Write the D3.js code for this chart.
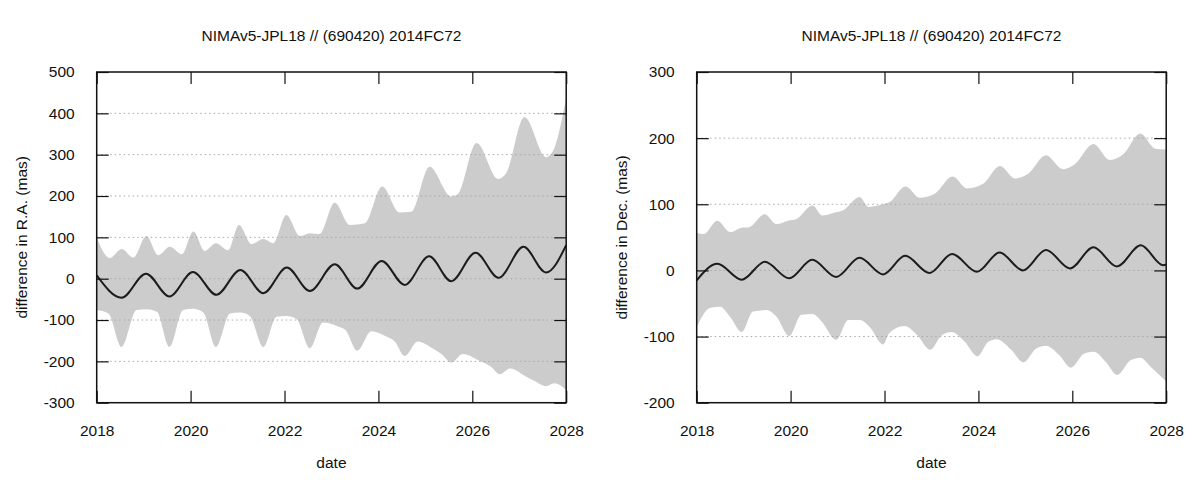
<!DOCTYPE html>
<html>
<head>
<meta charset="utf-8">
<script src="https://cdn.jsdelivr.net/npm/d3@7"></script>
<style>
  body { margin: 0; background: #fff; }
  text { font-family: "Liberation Sans", Arial, sans-serif; fill: #111; }
</style>
</head>
<body>
<div id="main"></div>
<script>
var title = "NIMAv5-JPL18 // (690420) 2014FC72"
var xTicks = [2018, 2020, 2022, 2024, 2026, 2028]
var raTicks = [-300, -200, -100, 0, 100, 200, 300, 400, 500]
var decTicks = [-200, -100, 0, 100, 200, 300]

// [year, mas]
var raLine = [[2018.0,8],[2018.53,-46],[2019.05,12],[2019.55,-43],[2020.05,16],[2020.55,-39],
  [2021.06,21],[2021.55,-35],[2022.05,27],[2022.54,-30],[2023.07,35],[2023.55,-24],[2024.07,43],
  [2024.56,-15],[2025.08,54],[2025.55,-6],[2026.07,63],[2026.56,2],[2027.09,77],[2027.57,15],[2028.0,81]]
var raUpper = [[2018.0,99],[2018.28,50],[2018.53,72],[2018.78,51],[2019.06,103],[2019.31,57],
  [2019.56,77],[2019.81,59],[2020.06,114],[2020.3,67],[2020.54,86],[2020.8,69],[2021.03,130],
  [2021.3,84],[2021.55,96],[2021.76,86],[2022.04,154],[2022.33,103],[2022.54,110],[2022.74,108],
  [2023.07,184],[2023.39,130],[2023.71,134],[2024.08,223],[2024.45,160],[2024.7,162],[2025.09,271],
  [2025.55,199],[2025.69,204],[2026.09,328],[2026.55,241],[2026.72,255],[2027.11,391],[2027.57,294],
  [2027.71,307],[2028.0,438]]
var raLower = [[2018.0,-76],[2018.25,-84],[2018.53,-165],[2018.85,-76],[2019.06,-74],[2019.28,-80],
  [2019.55,-165],[2019.84,-76],[2020.06,-73],[2020.27,-82],[2020.54,-165],[2020.84,-84],[2021.05,-82],
  [2021.26,-90],[2021.55,-165],[2021.83,-92],[2022.04,-90],[2022.26,-98],[2022.54,-168],[2022.82,-106],
  [2023.15,-116],[2023.3,-124],[2023.55,-174],[2023.85,-127],[2024.17,-140],[2024.35,-152],
  [2024.56,-187],[2024.84,-152],[2025.16,-169],[2025.35,-183],[2025.55,-203],[2025.8,-182],
  [2026.16,-199],[2026.4,-213],[2026.58,-231],[2026.81,-217],[2027.15,-237],[2027.35,-249],
  [2027.56,-260],[2027.75,-253],[2028.0,-269]]

var decLine = [[2018.0,-15],[2018.44,10],[2018.96,-14],[2019.45,13],[2019.97,-12],[2020.46,16],
  [2020.97,-10],[2021.47,19],[2021.97,-6],[2022.44,22],[2022.96,-4],[2023.44,25],[2023.97,-2],
  [2024.45,27],[2024.95,0],[2025.44,31],[2025.95,3],[2026.45,35],[2026.95,6],[2027.46,38],
  [2027.93,8],[2028.0,8.5]]
var decUpper = [[2018.0,57],[2018.15,55],[2018.44,75],[2018.71,58],[2018.99,65],[2019.1,65],
  [2019.45,85],[2019.7,70],[2019.98,76],[2020.1,77],[2020.47,98],[2020.67,83],[2020.91,87],
  [2021.12,91],[2021.47,111],[2021.66,96],[2022.02,101],[2022.1,103],[2022.45,127],[2022.75,110],
  [2023.07,116],[2023.45,142],[2023.76,124],[2024.1,131],[2024.46,158],[2024.78,139],[2025.06,146],
  [2025.44,174],[2025.8,153],[2026.06,161],[2026.45,191],[2026.8,167],[2027.09,176],[2027.45,207],
  [2027.77,184],[2028.0,183]]
var decLower = [[2018.0,-86],[2018.28,-57],[2018.5,-55],[2018.71,-70],[2018.96,-93],[2019.2,-62],
  [2019.49,-60],[2019.7,-70],[2019.97,-99],[2020.23,-67],[2020.47,-66],[2020.67,-78],[2020.97,-105],
  [2021.23,-75],[2021.48,-75],[2021.69,-86],[2021.97,-112],[2022.1,-95],[2022.42,-84],[2022.7,-98],
  [2022.97,-120],[2023.22,-98],[2023.43,-93],[2023.71,-108],[2023.98,-130],[2024.21,-108],
  [2024.39,-104],[2024.7,-120],[2024.96,-139],[2025.23,-118],[2025.44,-114],[2025.72,-128],
  [2025.97,-147],[2026.25,-126],[2026.46,-123],[2026.71,-138],[2026.96,-158],[2027.24,-136],
  [2027.45,-132],[2027.7,-148],[2028.0,-168]]

var svg = d3.select("#main").append("svg")
    .attr("width", 1200)
    .attr("height", 480)

function plain(d) { return String(d) }

function panel(id, left, yLabel, yDomain, yTicks, line, upper, lower) {
  var top = 72, w = 469.5, h = 330.7, tick = 12

  var x = d3.scaleLinear().domain([2018, 2028]).range([0, w])
  var y = d3.scaleLinear().domain(yDomain).range([h, 0])

  var g = svg.append("g").attr("transform", "translate(" + left + "," + top + ")")

  g.append("clipPath").attr("id", "clip" + id)
    .append("rect").attr("width", w).attr("height", h)

  var plot = g.append("g").attr("clip-path", "url(#clip" + id + ")")

  var curve = d3.line()
      .x(function(d) { return x(d[0]) })
      .y(function(d) { return y(d[1]) })
      .curve(d3.curveMonotoneX)

  // band: upper edge forward, lower edge back
  var back = curve(lower.slice().reverse()).replace(/^M/, "L")
  plot.append("path")
    .attr("d", curve(upper) + back + "Z")
    .style("fill", "#cccccc")
    .style("stroke", "none")

  plot.selectAll("line.grid")
      .data(yTicks.filter(function(t) { return t > yDomain[0] && t < yDomain[1] }))
    .enter().append("line")
      .attr("class", "grid")
      .attr("x1", 0).attr("x2", w)
      .attr("y1", function(d) { return y(d) })
      .attr("y2", function(d) { return y(d) })
      .style("stroke", "#a8a8a8")
      .style("stroke-width", 1)
      .style("stroke-dasharray", "1.5,3")

  plot.append("path")
    .attr("d", curve(line))
    .style("fill", "none")
    .style("stroke", "#1c1c1c")
    .style("stroke-width", 2)

  var yAxis = d3.axisLeft(y).tickValues(yTicks).tickSize(-tick).tickPadding(tick + 10).tickFormat(plain)
  var yAxisR = d3.axisRight(y).tickValues(yTicks).tickSize(-tick).tickFormat("")
  var xAxis = d3.axisBottom(x).tickValues(xTicks).tickSize(-tick).tickPadding(tick + 10).tickFormat(plain)
  var xAxisT = d3.axisTop(x).tickValues(xTicks).tickSize(-tick).tickFormat("")

  g.append("g").call(yAxis)
  g.append("g").attr("transform", "translate(" + w + ",0)").call(yAxisR)
  g.append("g").attr("transform", "translate(0," + h + ")").call(xAxis)
  g.append("g").call(xAxisT)

  g.selectAll(".domain").remove()
  g.selectAll(".tick line").style("stroke", "#111").style("stroke-width", 1.2)
  g.selectAll(".tick text")
    .style("font-family", "'Liberation Sans', Arial, sans-serif")
    .style("font-size", "15.5px")
    .style("fill", "#111")

  g.append("rect")
    .attr("width", w).attr("height", h)
    .style("fill", "none")
    .style("stroke", "#111")
    .style("stroke-width", 1.5)

  g.append("text")
    .attr("x", w / 2).attr("y", -31)
    .attr("text-anchor", "middle")
    .style("font-size", "15.5px")
    .text(title)

  g.append("text")
    .attr("x", w / 2).attr("y", h + 65)
    .attr("text-anchor", "middle")
    .style("font-size", "15.5px")
    .text("date")

  g.append("text")
    .attr("transform", "translate(-70," + (h / 2) + ") rotate(-90)")
    .attr("text-anchor", "middle")
    .style("font-size", "15.5px")
    .text(yLabel)
}

panel("ra", 96.7, "difference in R.A. (mas)", [-300, 500], raTicks, raLine, raUpper, raLower)
panel("dec", 696.7, "difference in Dec. (mas)", [-200, 300], decTicks, decLine, decUpper, decLower)
</script>
</body>
</html>
